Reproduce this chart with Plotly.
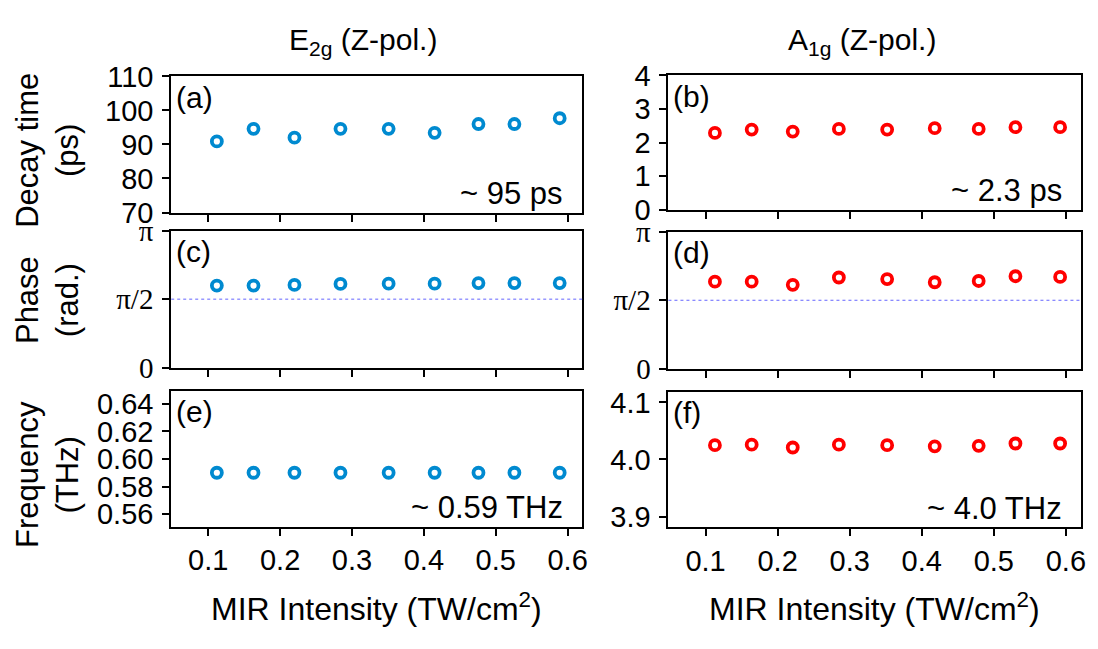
import plotly.graph_objects as go
import math

W, H = 1098, 649

# ---- data ----
intensity_e2g = [0.112, 0.163, 0.220, 0.284, 0.351, 0.415, 0.476, 0.526, 0.589]
intensity_a1g = [0.113, 0.164, 0.221, 0.285, 0.352, 0.418, 0.479, 0.530, 0.592]
e2g_decay = [90.9, 94.6, 92.0, 94.6, 94.6, 93.4, 96.0, 96.0, 97.7]
a1g_decay = [2.29, 2.39, 2.33, 2.41, 2.39, 2.43, 2.41, 2.46, 2.46]
e2g_phase = [1.883, 1.883, 1.897, 1.919, 1.926, 1.926, 1.940, 1.940, 1.940]
a1g_phase = [1.998, 1.998, 1.926, 2.093, 2.056, 1.984, 2.013, 2.122, 2.107]
e2g_freq = [0.590, 0.590, 0.590, 0.590, 0.590, 0.590, 0.590, 0.590, 0.590]
a1g_freq = [4.025, 4.026, 4.021, 4.026, 4.025, 4.023, 4.024, 4.028, 4.028]

x_ticks = [0.1, 0.2, 0.3, 0.4, 0.5, 0.6]
decay_e2g_ticks = [70, 80, 90, 100, 110]
decay_a1g_ticks = [0, 1, 2, 3, 4]
phase_ticks = [0, math.pi / 2, math.pi]
phase_ticktext = ["0", "π/2", "π"]
freq_e2g_ticks = [0.56, 0.58, 0.60, 0.62, 0.64]
freq_a1g_ticks = [3.9, 4.0, 4.1]

panel_labels = ["(a)", "(b)", "(c)", "(d)", "(e)", "(f)"]
value_notes = ["~ 95 ps", "~ 2.3 ps", "", "", "~ 0.59 THz", "~ 4.0 THz"]
col_titles = ["E<sub>2g</sub> (Z-pol.)", "A<sub>1g</sub> (Z-pol.)"]
row_titles = ["Decay time<br>(ps)", "Phase<br>(rad.)", "Frequency<br>(THz)"]
x_title = "MIR Intensity (TW/cm<sup>2</sup>)"

BLUE = "rgb(0,138,208)"
RED = "rgb(255,0,0)"
SANS = "Liberation Sans, Arial, sans-serif"
SERIF = "Liberation Serif, Times New Roman, serif"


def X(px):
    return px / W


def Y(py):
    return 1 - py / H


col_px = [(172, 585), (671.5, 1085.6)]
row_px = [[(63.5, 206.7), (62.5, 204.0)],
          [(225.7, 370.0), (227.0, 371.0)],
          [(394.0, 537.0), (395.0, 538.0)]]

series = [
    (intensity_e2g, e2g_decay, BLUE), (intensity_a1g, a1g_decay, RED),
    (intensity_e2g, e2g_phase, BLUE), (intensity_a1g, a1g_phase, RED),
    (intensity_e2g, e2g_freq, BLUE), (intensity_a1g, a1g_freq, RED),
]
yranges = [[70, 110], [0, 4], [0, math.pi], [0, math.pi], [0.551, 0.6496], [3.881, 4.119]]
yticks = [decay_e2g_ticks, decay_a1g_ticks, phase_ticks, phase_ticks, freq_e2g_ticks, freq_a1g_ticks]

fig = go.Figure()
layout = dict(
    width=W, height=H, margin=dict(l=0, r=0, t=0, b=0),
    paper_bgcolor="white", plot_bgcolor="white", showlegend=False,
    font=dict(family=SANS, color="black"),
)
annotations = []
shapes = []

axis_common = dict(showline=True, linecolor="black", linewidth=2, mirror=True,
                   ticks="outside", ticklen=7, tickwidth=2, tickcolor="black",
                   showgrid=False, zeroline=False)

for i in range(6):
    r, c = divmod(i, 2)
    n = i + 1
    xs, ys, col = series[i]
    fig.add_trace(go.Scatter(
        x=xs, y=ys, mode="markers", xaxis=f"x{n}", yaxis=f"y{n}",
        marker=dict(symbol="circle-open", size=10, color=col, line=dict(width=3.8, color=col)),
    ))
    x0, x1 = col_px[c]
    y0, y1 = row_px[r][c]
    xa = dict(axis_common, domain=[X(x0), X(x1)], range=[0.0485, 0.6205],
              tickvals=x_ticks, anchor=f"y{n}",
              showticklabels=(r == 2), ticktext=[f"{v:.1f}" for v in x_ticks],
              tickfont=dict(size=29, family=SANS))
    ya = dict(axis_common, domain=[Y(y1), Y(y0)], range=yranges[i],
              tickvals=yticks[i], anchor=f"x{n}", tickfont=dict(size=29, family=SANS),
              ticklabelstandoff=3)
    if r == 1:
        ya["ticktext"] = phase_ticktext
        ya["tickfont"] = dict(size=29, family=SERIF)
    elif i == 4:
        ya["ticktext"] = [f"{v:.2f}" for v in freq_e2g_ticks]
    elif i == 5:
        ya["ticktext"] = [f"{v:.1f}" for v in freq_a1g_ticks]
    else:
        ya["ticktext"] = [str(v) for v in yticks[i]]
    layout[f"xaxis{n}"] = xa
    layout[f"yaxis{n}"] = ya

    annotations.append(dict(text=panel_labels[i], xref="paper", yref="paper",
                            x=X(x0 + 3), y=Y(y0 + 22), xanchor="left", yanchor="middle",
                            showarrow=False, font=dict(size=30, family=SANS)))
    if value_notes[i]:
        annotations.append(dict(text=value_notes[i], xref="paper", yref="paper",
                                x=X(x1 - 17), y=Y(y1 - 20), xanchor="right", yanchor="middle",
                                showarrow=False, font=dict(size=31, family=SANS)))
    if r == 1:
        shapes.append(dict(type="line", xref=f"x{n} domain", yref=f"y{n}",
                           x0=0, x1=1, y0=math.pi / 2, y1=math.pi / 2,
                           line=dict(color="rgb(100,100,255)", width=1, dash="dot")))

for c, cx in enumerate([365, 866]):
    annotations.append(dict(text=col_titles[c], xref="paper", yref="paper",
                            x=X(cx), y=Y(27), xanchor="center", yanchor="middle",
                            showarrow=False, font=dict(size=30, family=SANS)))
for c in range(2):
    cx = (col_px[c][0] + col_px[c][1]) / 2
    annotations.append(dict(text=x_title, xref="paper", yref="paper",
                            x=X(cx), y=Y(622), xanchor="center", yanchor="middle",
                            showarrow=False, font=dict(size=32, family=SANS)))
for r, cy in enumerate([141, 299, 482]):
    annotations.append(dict(text=row_titles[r], xref="paper", yref="paper",
                            x=X(47), y=Y(cy), xanchor="center", yanchor="middle",
                            textangle=-90, showarrow=False,
                            font=dict(size=31, family=SANS)))

layout["annotations"] = annotations
layout["shapes"] = shapes
fig.update_layout(**layout)
fig.write_html("out.html")
